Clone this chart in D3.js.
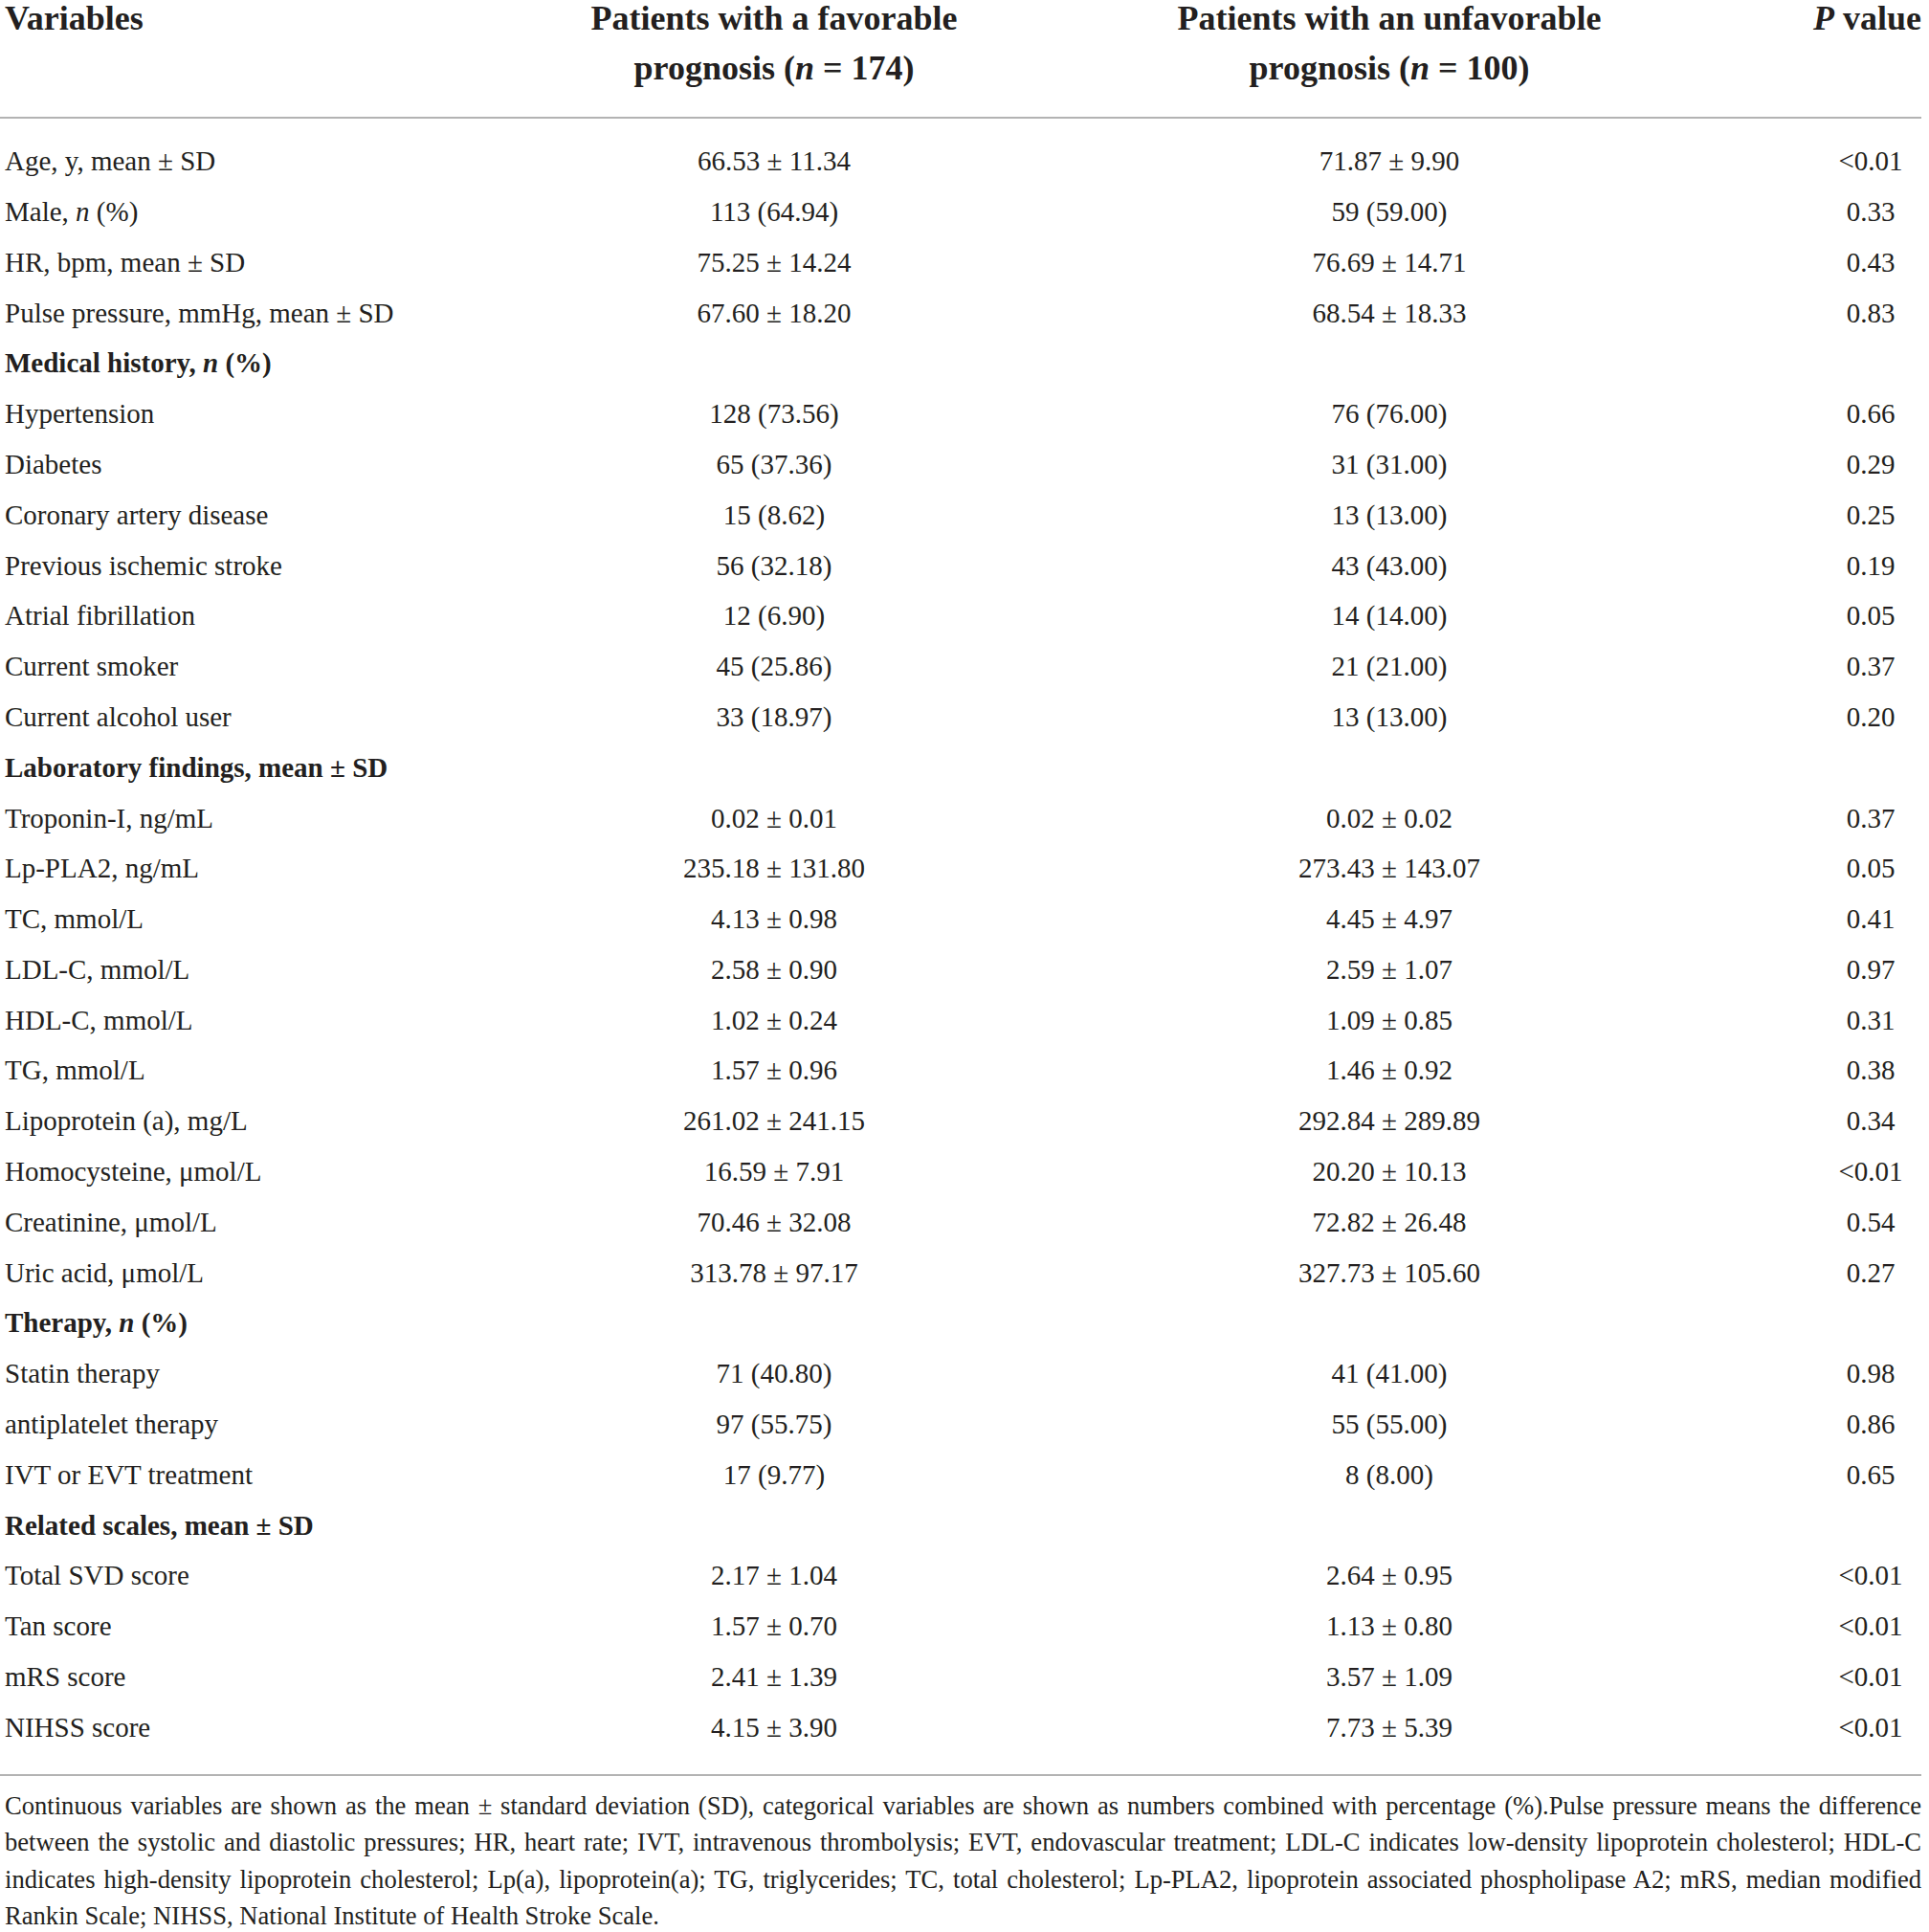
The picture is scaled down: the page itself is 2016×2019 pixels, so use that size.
<!DOCTYPE html>
<html>
<head>
<meta charset="utf-8">
<script src="https://cdn.jsdelivr.net/npm/d3@7/dist/d3.min.js"></script>
<style>
  body { margin: 0; background: #fff; }
  text { font-family: "Liberation Serif", "DejaVu Serif", serif; fill: #231f20; }
</style>
</head>
<body>
<svg id="chart"></svg>
<script>
// table content
const headers = [
    ["Variables"],
    ["Patients with a favorable", "prognosis (*n* = 174)"],
    ["Patients with an unfavorable", "prognosis (*n* = 100)"],
    ["*P* value"]
];

const variables = [
    "Age, y, mean ± SD", "Male, *n* (%)", "HR, bpm, mean ± SD", "Pulse pressure, mmHg, mean ± SD",
    "Medical history, *n* (%)",
    "Hypertension", "Diabetes", "Coronary artery disease", "Previous ischemic stroke",
    "Atrial fibrillation", "Current smoker", "Current alcohol user",
    "Laboratory findings, mean ± SD",
    "Troponin-I, ng/mL", "Lp-PLA2, ng/mL", "TC, mmol/L", "LDL-C, mmol/L", "HDL-C, mmol/L",
    "TG, mmol/L", "Lipoprotein (a), mg/L", "Homocysteine, μmol/L", "Creatinine, μmol/L",
    "Uric acid, μmol/L",
    "Therapy, *n* (%)",
    "Statin therapy", "antiplatelet therapy", "IVT or EVT treatment",
    "Related scales, mean ± SD",
    "Total SVD score", "Tan score", "mRS score", "NIHSS score"
];

const favorable = [
    "66.53 ± 11.34", "113 (64.94)", "75.25 ± 14.24", "67.60 ± 18.20",
    "",
    "128 (73.56)", "65 (37.36)", "15 (8.62)", "56 (32.18)", "12 (6.90)", "45 (25.86)", "33 (18.97)",
    "",
    "0.02 ± 0.01", "235.18 ± 131.80", "4.13 ± 0.98", "2.58 ± 0.90", "1.02 ± 0.24", "1.57 ± 0.96",
    "261.02 ± 241.15", "16.59 ± 7.91", "70.46 ± 32.08", "313.78 ± 97.17",
    "",
    "71 (40.80)", "97 (55.75)", "17 (9.77)",
    "",
    "2.17 ± 1.04", "1.57 ± 0.70", "2.41 ± 1.39", "4.15 ± 3.90"
];

const unfavorable = [
    "71.87 ± 9.90", "59 (59.00)", "76.69 ± 14.71", "68.54 ± 18.33",
    "",
    "76 (76.00)", "31 (31.00)", "13 (13.00)", "43 (43.00)", "14 (14.00)", "21 (21.00)", "13 (13.00)",
    "",
    "0.02 ± 0.02", "273.43 ± 143.07", "4.45 ± 4.97", "2.59 ± 1.07", "1.09 ± 0.85", "1.46 ± 0.92",
    "292.84 ± 289.89", "20.20 ± 10.13", "72.82 ± 26.48", "327.73 ± 105.60",
    "",
    "41 (41.00)", "55 (55.00)", "8 (8.00)",
    "",
    "2.64 ± 0.95", "1.13 ± 0.80", "3.57 ± 1.09", "7.73 ± 5.39"
];

const pValues = [
    "<0.01", "0.33", "0.43", "0.83",
    "",
    "0.66", "0.29", "0.25", "0.19", "0.05", "0.37", "0.20",
    "",
    "0.37", "0.05", "0.41", "0.97", "0.31", "0.38", "0.34", "<0.01", "0.54", "0.27",
    "",
    "0.98", "0.86", "0.65",
    "",
    "<0.01", "<0.01", "<0.01", "<0.01"
];

const sectionRows = [4, 12, 23, 27];

const footnote = [
    "Continuous variables are shown as the mean ± standard deviation (SD), categorical variables are shown as numbers combined with percentage (%).Pulse pressure means the difference",
    "between the systolic and diastolic pressures; HR, heart rate; IVT, intravenous thrombolysis; EVT, endovascular treatment; LDL-C indicates low-density lipoprotein cholesterol; HDL-C",
    "indicates high-density lipoprotein cholesterol; Lp(a), lipoprotein(a); TG, triglycerides; TC, total cholesterol; Lp-PLA2, lipoprotein associated phospholipase A2; mRS, median modified",
    "Rankin Scale; NIHSS, National Institute of Health Stroke Scale."
];

const width = 2016, height = 2019;
const left = 5, right = 2008;
const bodySize = 29, headSize = 36, noteSize = 26.6;

const svg = d3.select("#chart").attr("width", width).attr("height", height);

// columns: label left edge, then centres of the three value columns
const colX = [left, 809, 1452, 1955];

const y = d3.scalePoint()
    .domain(d3.range(variables.length))
    .range([168.4, 1805]);

// write a string with *x* pieces in italic
function rich(sel, str) {
    str.split("*").forEach((part, i) => {
        if (!part) return;
        sel.append("tspan")
            .attr("font-style", i % 2 ? "italic" : null)
            .text(part);
    });
}

// header
const head = svg.append("g").attr("font-weight", "bold").attr("font-size", headSize);
headers.forEach((lines, c) => {
    lines.forEach((line, k) => {
        const t = head.append("text")
            .attr("x", c === 3 ? right : colX[c])
            .attr("y", [31, 83][k])
            .attr("text-anchor", c === 0 ? "start" : (c === 3 ? "end" : "middle"));
        rich(t, line);
    });
});

svg.append("line")
    .attr("x1", 0).attr("x2", right)
    .attr("y1", 123).attr("y2", 123)
    .attr("stroke", "#b3b3b3").attr("stroke-width", 2);

// body rows
const rows = svg.append("g").attr("font-size", bodySize)
    .selectAll("g")
    .data(variables.map((v, i) => ({ i, v, a: favorable[i], b: unfavorable[i], p: pValues[i] })))
    .join("g")
    .attr("transform", d => `translate(0,${y(d.i) + 9.8})`);

rows.append("text")
    .attr("x", colX[0])
    .attr("font-weight", d => sectionRows.includes(d.i) ? "bold" : null)
    .each(function (d) { rich(d3.select(this), d.v); });

[["a", 1], ["b", 2], ["p", 3]].forEach(([k, c]) => {
    rows.append("text")
        .attr("x", colX[c])
        .attr("text-anchor", "middle")
        .text(d => d[k]);
});

svg.append("line")
    .attr("x1", 0).attr("x2", right)
    .attr("y1", 1855).attr("y2", 1855)
    .attr("stroke", "#b3b3b3").attr("stroke-width", 2);

// footnote, justified by spreading the word gaps
const note = svg.append("g").attr("font-size", noteSize);
const noteY = d3.scaleLinear().domain([0, 3]).range([1896, 2011]);
footnote.forEach((line, k) => {
    const t = note.append("text").attr("x", left).attr("y", noteY(k)).text(line);
    if (k < footnote.length - 1) {
        const gaps = line.split(" ").length - 1;
        const w = t.node().getComputedTextLength();
        t.attr("word-spacing", (right - left - w) / gaps);
    }
});
</script>
</body>
</html>
